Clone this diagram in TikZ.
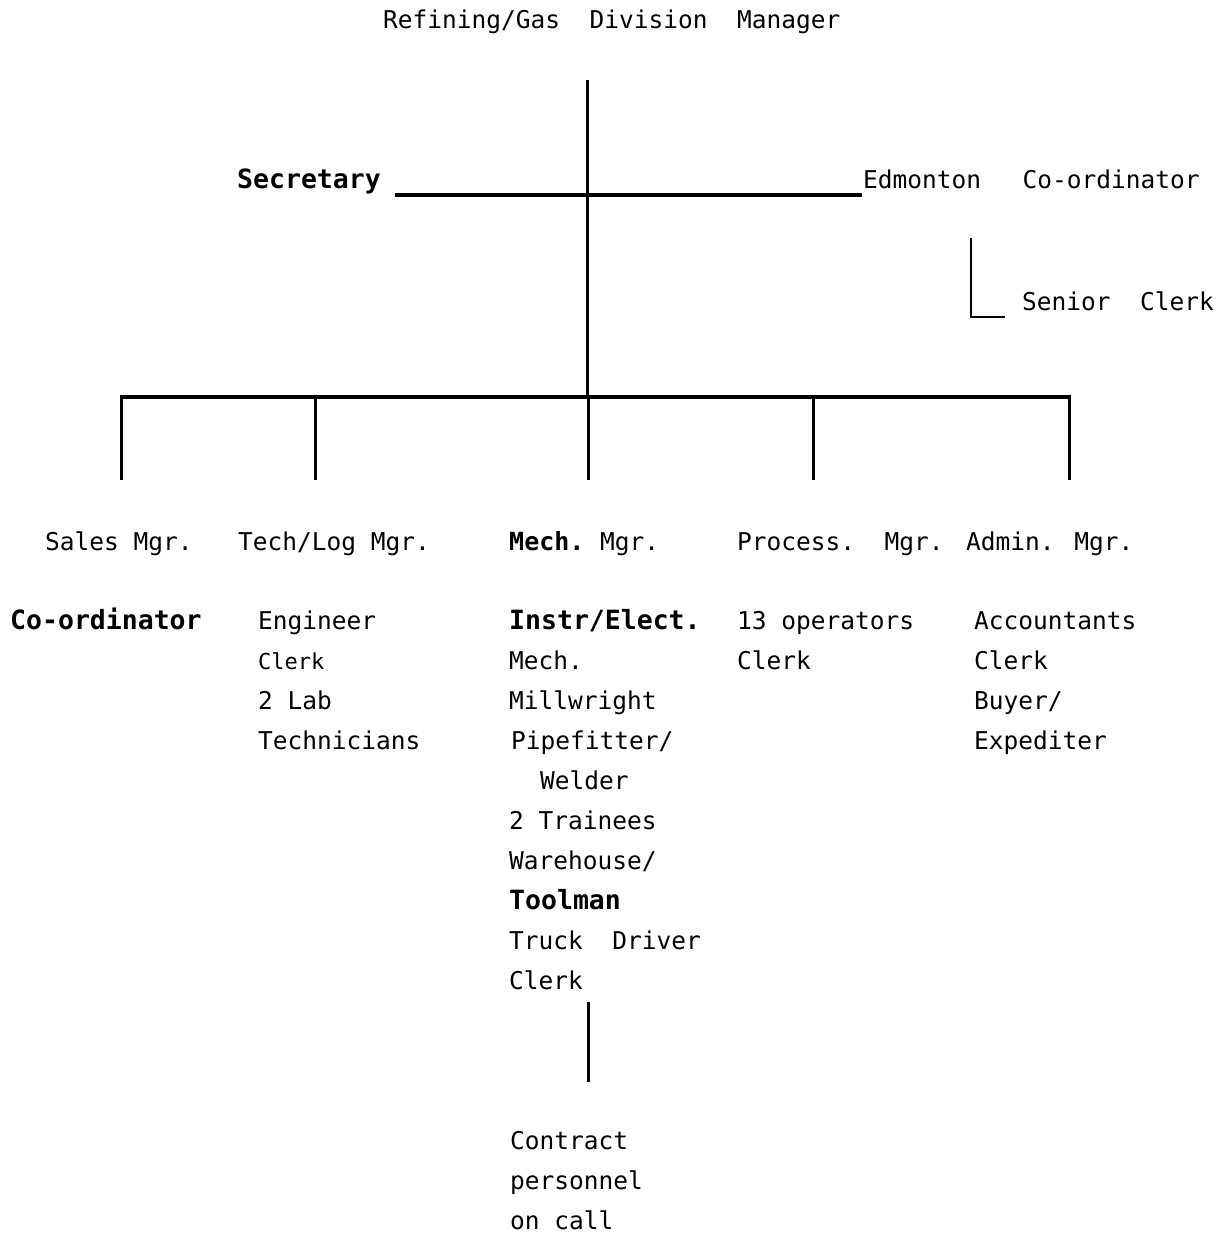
\documentclass[tikz,border=0pt]{standalone}
\usepackage{fontspec}
\newfontfamily\tw{DejaVu Sans Mono}
\tikzset{
  lbl/.style={anchor=base west, inner sep=0pt, font=\tw\fontsize{24.5}{29}\selectfont},
  bld/.style={lbl, font=\tw\bfseries\fontsize{26.5}{29}\selectfont},
  sml/.style={lbl, font=\tw\fontsize{22}{29}\selectfont},
  ln/.style={line width=3pt},
  hln/.style={line width=3.5pt},
  thn/.style={line width=1.5pt}
}
\begin{document}
\begin{tikzpicture}[x=1pt,y=-1pt]
\useasboundingbox (0,0) rectangle (1229,1238);
% titles
\node[lbl] (mgr) at (383,29) {Refining/Gas~~Division~~Manager};
\node[bld] (sec) at (237,189) {Secretary};
\node[lbl] (edm) at (863,189) {Edmonton~~\hspace{12pt}Co-ordinator};
\node[lbl] (sen) at (1022,310) {Senior~~Clerk};
% manager row
\node[lbl] (sales) at (45,550) {Sales Mgr.};
\node[lbl] (tech) at (238,550) {Tech/Log Mgr.};
\node[lbl] (mech) at (509,550) {{\bfseries\fontsize{25}{29}\selectfont Mech.}\hspace{-4pt} Mgr.};
\node[lbl] (proc) at (737,550) {Process.~~Mgr.};
\node[lbl] (adm) at (966,550) {Admin. Mgr.};
% sales
\node[bld] (coord) at (10,629) {Co-ordinator};
% tech
\node[lbl] (t1) at (258,629) {Engineer};
\node[sml] (t2) at (258,669) {Clerk};
\node[lbl] (t3) at (258,709) {2~Lab};
\node[lbl] (t4) at (258,749) {Technicians};
% mech
\node[bld] (m1) at (509,629) {Instr/Elect.};
\node[lbl] (m2) at (509,669) {Mech.};
\node[lbl] (m3) at (509,709) {Millwright};
\node[lbl] (m4) at (511,749) {Pipefitter/};
\node[lbl] (m5) at (540,789) {Welder};
\node[lbl] (m6) at (509,829) {2 Trainees};
\node[lbl] (m7) at (509,869) {Warehouse/};
\node[bld] (m8) at (509,909) {Toolman};
\node[lbl] (m9) at (509,949) {Truck~~Driver};
\node[lbl] (m10) at (509,989) {Clerk};
% process
\node[lbl] (p1) at (737,629) {13 operators};
\node[lbl] (p2) at (737,669) {Clerk};
% admin
\node[lbl] (a1) at (974,629) {Accountants};
\node[lbl] (a2) at (974,669) {Clerk};
\node[lbl] (a3) at (974,709) {Buyer/};
\node[lbl] (a4) at (974,749) {Expediter};
% contract
\node[lbl] (c1) at (510,1149) {Contract};
\node[lbl] (c2) at (510,1189) {personnel};
\node[lbl] (c3) at (510,1229) {on call};
% coordinates
\coordinate (top) at (587,80);
\coordinate (bus) at (587,397);
\coordinate (secL) at (395,195);
\coordinate (secR) at (862,195);
\coordinate (busL) at (120,397);
\coordinate (busR) at (1071,397);
\coordinate (d1a) at (121,397); \coordinate (d1b) at (121,480);
\coordinate (d2a) at (315,397); \coordinate (d2b) at (315,480);
\coordinate (d3a) at (588,397); \coordinate (d3b) at (588,480);
\coordinate (d4a) at (813,397); \coordinate (d4b) at (813,480);
\coordinate (d5a) at (1069,397); \coordinate (d5b) at (1069,480);
\coordinate (scT) at (971,238);
\coordinate (scC) at (971,317);
\coordinate (scR) at (1005,317);
\coordinate (ctT) at (588,1002);
\coordinate (ctB) at (588,1082);
% lines
\draw[ln] (top) -- (bus);
\draw[hln] (secL) -- (secR);
\draw[hln] (busL) -- (busR);
\draw[ln] (d1a) -- (d1b);
\draw[ln] (d2a) -- (d2b);
\draw[ln] (d3a) -- (d3b);
\draw[ln] (d4a) -- (d4b);
\draw[ln] (d5a) -- (d5b);
\draw[thn] (scT) -- (scC) -- (scR);
\draw[ln] (ctT) -- (ctB);
\end{tikzpicture}
\end{document}
